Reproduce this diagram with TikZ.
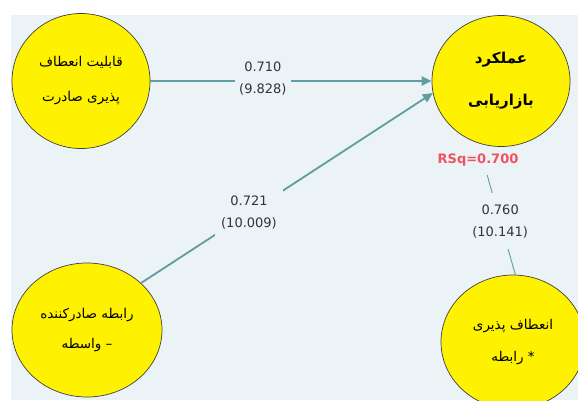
\documentclass[tikz,border=0pt]{standalone}
\usepackage{fontspec}
\setmainfont{DejaVu Sans}
\newfontfamily\fa[Script=Arabic]{DejaVu Sans}
\TeXXeTstate=1
\usetikzlibrary{arrows.meta,shapes.geometric}
\definecolor{bgc}{HTML}{EBF3F6}
\definecolor{edgec}{RGB}{95,158,160}
\definecolor{rsqc}{RGB}{240,82,98}
\definecolor{numc}{RGB}{50,50,60}
\begin{document}
\begin{tikzpicture}[x=1pt,y=-1pt,
  lv/.style={ellipse, draw=black!75, line width=0.7pt, fill=yellow, inner sep=0pt, align=center},
  edgeline/.style={draw=edgec},
  arr/.style={-{Triangle[length=10pt,width=9pt]}},
  coef/.style={fill=bgc, align=center, text=numc, inner xsep=4pt, inner ysep=6pt, font=\fontsize{13}{22}\selectfont}
]
\useasboundingbox (0,0) rectangle (578,400);
\fill[bgc] (11,15) rectangle (578,400);

\node[lv, minimum width=138pt, minimum height=135pt, font=\fa\fontsize{13.5}{35}\selectfont] (A) at (81,81)
  {\beginR قابلیت انعطاف\endR\\\beginR پذیری صادرت\endR};
\node[lv, minimum width=138pt, minimum height=131pt, font=\fa\bfseries\fontsize{15}{42}\selectfont] (B) at (501,81)
  {\beginR عملکرد\endR\\\beginR بازاریابی\endR};
\node[lv, minimum width=150pt, minimum height=134pt, font=\fa\fontsize{13.5}{30}\selectfont] (C) at (87,330)
  {\beginR رابطه صادرکننده\endR\\\beginR – واسطه\endR};
\node[lv, minimum width=144pt, minimum height=134pt, font=\fa\fontsize{13.5}{32}\selectfont] (D) at (513,342)
  {\beginR انعطاف پذیری\endR\\\beginR * رابطه\endR};

\node[text=rsqc, font=\bfseries\fontsize{13}{15}\selectfont, inner sep=1pt] (rsq) at (478,160) {RSq=0.700};

\draw[edgeline, line width=2.6pt, arr] (A) -- (B)
  node[coef, pos=0.40, yshift=2pt] (l1) {0.710\\(9.828)};
\draw[edgeline, line width=1.8pt, arr] (C.41) -- (B.190)
  node[coef, pos=0.37, inner xsep=6pt, inner ysep=9pt] (l2) {0.721\\(10.009)};
\draw[edgeline, line width=0.9pt, shorten >=8pt] (D.88) -- ([xshift=7pt]rsq.south)
  node[coef, pos=0.5, inner ysep=11pt] (l3) {0.760\\(10.141)};
\end{tikzpicture}
\end{document}
